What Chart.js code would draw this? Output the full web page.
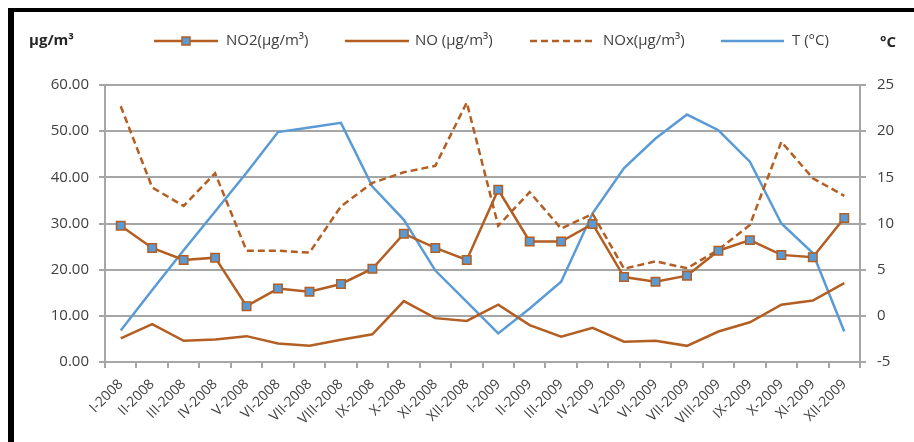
<!DOCTYPE html>
<html>
<head>
<meta charset="utf-8">
<script src="https://cdn.jsdelivr.net/npm/chart.js@4.4.1/dist/chart.umd.min.js"></script>
<style>
  body { margin: 0; background: #fff; }
  #wrap { width: 914px; height: 442px; }
</style>
</head>
<body>
<div id="wrap"><canvas id="noxChart" width="914" height="442"></canvas></div>
<script>
// monthly values
const months = ['I-2008', 'II-2008', 'III-2008', 'IV-2008', 'V-2008', 'VI-2008', 'VII-2008', 'VIII-2008',
    'IX-2008', 'X-2008', 'XI-2008', 'XII-2008', 'I-2009', 'II-2009', 'III-2009', 'IV-2009', 'V-2009',
    'VI-2009', 'VII-2009', 'VIII-2009', 'IX-2009', 'X-2009', 'XI-2009', 'XII-2009'];
const no2Values = [29.5, 24.7, 22.1, 22.6, 12.1, 15.9, 15.2, 16.9, 20.2, 27.8, 24.7, 22.1,
    37.3, 26.1, 26.1, 29.9, 18.4, 17.4, 18.7, 24.1, 26.4, 23.2, 22.7, 31.2];
const noValues = [5.1, 8.2, 4.6, 4.9, 5.6, 4.0, 3.5, 4.8, 6.0, 13.2, 9.5, 8.9,
    12.4, 8.0, 5.5, 7.4, 4.4, 4.6, 3.5, 6.6, 8.6, 12.4, 13.3, 17.1];
const noxValues = [55.4, 37.8, 33.8, 40.9, 24.1, 24.1, 23.7, 33.7, 38.8, 41.1, 42.5, 56.2,
    29.5, 36.8, 28.9, 32.1, 20.2, 21.8, 20.3, 24.3, 29.7, 47.7, 39.8, 36.0];
const tempValues = [-1.6, 2.8, 7.1, 11.3, 15.5, 19.9, 20.4, 20.9, 14.0, 10.4, 4.9, 1.5,
    -1.9, 0.8, 3.7, 11.1, 16.0, 19.2, 21.8, 20.1, 16.7, 10.0, 6.8, -1.7];
const seriesNames = ['NO2(µg/m³)', 'NO (µg/m³)', 'NOx(µg/m³)', 'T (°C)'];
const leftUnit = 'µg/m³';
const rightUnit = '°C';

const brown = '#B35E22';
const blue = '#5B9BD5';
const gridGrey = '#A6A6A6';
const textColor = '#404040';
const fontName = '"Open Sans", "Liberation Sans", sans-serif';

// frame, unit labels and the legend row
const decorPlugin = {
    id: 'decor',
    afterDraw(chart) {
        const ctx = chart.ctx;
        ctx.save();
        ctx.fillStyle = '#000';
        ctx.fillRect(8, 8, 906, 4);
        ctx.fillRect(8, 8, 6, 434);

        ctx.fillStyle = '#262626';
        ctx.font = 'bold 15px ' + fontName;
        ctx.textBaseline = 'middle';
        ctx.textAlign = 'left';
        ctx.fillText(leftUnit, 29, 41);
        ctx.fillText(rightUnit, 880, 43);

        const items = [
            { x: 154, w: 64, tx: 226, dash: [], color: brown, marker: true },
            { x: 345, w: 64, tx: 415, dash: [], color: brown },
            { x: 530, w: 64, tx: 603, dash: [7, 4], color: brown },
            { x: 721, w: 63, tx: 792, dash: [], color: blue }
        ];
        const ly = 41;
        items.forEach((it, i) => {
            ctx.strokeStyle = it.color;
            ctx.lineWidth = 2.5;
            ctx.setLineDash(it.dash);
            ctx.beginPath();
            ctx.moveTo(it.x, ly);
            ctx.lineTo(it.x + it.w, ly);
            ctx.stroke();
            ctx.setLineDash([]);
            if (it.marker) {
                const cx = it.x + it.w / 2;
                ctx.fillStyle = blue;
                ctx.fillRect(cx - 4, ly - 4, 8, 8);
                ctx.lineWidth = 1.5;
                ctx.strokeRect(cx - 4, ly - 4, 8, 8);
            }
            ctx.fillStyle = textColor;
            ctx.font = '15px ' + fontName;
            ctx.fillText(seriesNames[i], it.tx, ly);
        });
        ctx.restore();
    }
};

const ctx = document.getElementById('noxChart').getContext('2d');
const noxChart = new Chart(ctx, {
    type: 'line',
    data: {
        labels: months,
        datasets: [{
            label: seriesNames[0],
            data: no2Values,
            borderColor: brown,
            borderWidth: 2.5,
            pointStyle: 'rect',
            pointRadius: 6,
            pointBackgroundColor: blue,
            pointBorderColor: brown,
            pointBorderWidth: 1.5,
            yAxisID: 'y'
        }, {
            label: seriesNames[1],
            data: noValues,
            borderColor: brown,
            borderWidth: 2.5,
            pointRadius: 0,
            yAxisID: 'y'
        }, {
            label: seriesNames[2],
            data: noxValues,
            borderColor: brown,
            borderWidth: 2.5,
            borderDash: [7, 4],
            pointRadius: 0,
            yAxisID: 'y'
        }, {
            label: seriesNames[3],
            data: tempValues,
            borderColor: blue,
            borderWidth: 2.5,
            pointRadius: 0,
            yAxisID: 'y1'
        }]
    },
    options: {
        responsive: false,
        animation: false,
        devicePixelRatio: 1,
        layout: { padding: { top: 85, left: 0, right: 0, bottom: 0 } },
        plugins: {
            legend: { display: false },
            tooltip: { enabled: false }
        },
        scales: {
            x: {
                offset: true,
                grid: { offset: true, drawOnChartArea: false, color: gridGrey, tickLength: 6, lineWidth: 2 },
                border: { color: gridGrey, width: 2 },
                ticks: {
                    autoSkip: false,
                    maxRotation: 45,
                    minRotation: 45,
                    padding: 8,
                    color: textColor,
                    font: { family: fontName, size: 14 }
                },
                afterFit: scale => { scale.height = 80; }
            },
            y: {
                position: 'left',
                min: 0,
                max: 60,
                ticks: {
                    stepSize: 10,
                    padding: 10,
                    color: textColor,
                    font: { family: fontName, size: 15 },
                    callback: value => value.toFixed(2) // two decimals like the source
                },
                grid: { color: gridGrey, lineWidth: 2, tickLength: 6 },
                border: { color: gridGrey, width: 2 },
                afterFit: scale => { scale.width = 105; }
            },
            y1: {
                position: 'right',
                min: -5,
                max: 25,
                ticks: {
                    stepSize: 5,
                    padding: 11,
                    color: textColor,
                    font: { family: fontName, size: 15 }
                },
                grid: { drawOnChartArea: false, color: gridGrey, lineWidth: 2, tickLength: 6 },
                border: { color: gridGrey, width: 2 },
                afterFit: scale => { scale.width = 54; }
            }
        }
    },
    plugins: [decorPlugin]
});
</script>
</body>
</html>
